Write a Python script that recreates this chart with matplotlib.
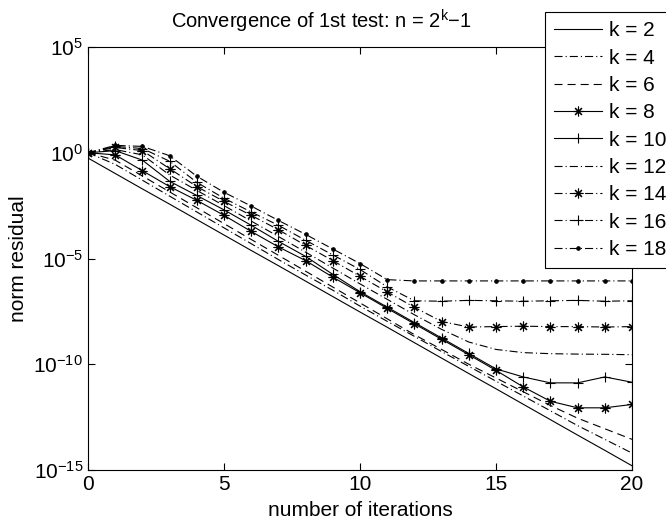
import numpy as np
import matplotlib
matplotlib.use("Agg")
import matplotlib.pyplot as plt

plt.rcParams['font.family'] = ['Liberation Sans', 'DejaVu Sans']
plt.rcParams['mathtext.fontset'] = 'custom'
plt.rcParams['mathtext.rm'] = 'Liberation Sans'
plt.rcParams['mathtext.it'] = 'Liberation Sans:italic'
plt.rcParams['lines.scale_dashes'] = False

iters = np.arange(21)

# log10 of the norm residual
res_k2 = [-0.25, -0.98, -1.71, -2.43, -3.16, -3.89, -4.62, -5.34, -6.07, -6.80, -7.53,
          -8.25, -8.98, -9.71, -10.44, -11.16, -11.89, -12.62, -13.35, -14.07, -14.80]
res_k4 = [0.0, -0.55, -1.30, -2.05, -2.80, -3.55, -4.30, -5.05, -5.78, -6.50, -7.25,
          -7.97, -8.68, -9.40, -10.10, -10.80, -11.50, -12.20, -12.90, -13.55, -14.20]
res_k6 = [0.0, -0.35, -1.10, -1.85, -2.60, -3.35, -4.10, -4.85, -5.60, -6.35, -7.10,
          -7.85, -8.60, -9.30, -10.00, -10.65, -11.30, -11.95, -12.55, -13.05, -13.55]
res_k8 = [0.0, -0.10, -0.85, -1.60, -2.25, -2.96, -3.72, -4.45, -5.10, -5.88, -6.62,
          -7.36, -8.09, -8.82, -9.55, -10.29, -11.07, -11.75, -12.06, -12.06, -11.90]
res_k10 = [0.0, 0.10, -0.35, -1.35, -2.02, -2.70, -3.43, -4.19, -4.90, -5.75, -6.57,
           -7.30, -8.03, -8.76, -9.49, -10.22, -10.60, -10.88, -10.88, -10.60, -10.85]
res_k12 = [0.0, 0.15, -0.10, -1.05, -1.78, -2.50, -3.23, -3.96, -4.70, -5.45, -6.20,
           -6.93, -7.66, -8.35, -8.95, -9.30, -9.45, -9.50, -9.52, -9.53, -9.55]
res_k14 = [0.0, 0.25, 0.10, -0.75, -1.60, -2.30, -2.96, -3.64, -4.38, -5.10, -5.84,
           -6.58, -7.31, -7.98, -8.24, -8.22, -8.20, -8.22, -8.22, -8.24, -8.22]
res_k16 = [0.0, 0.30, 0.20, -0.40, -1.40, -2.15, -2.80, -3.43, -4.14, -4.83, -5.52,
           -6.34, -7.00, -7.02, -6.98, -7.00, -7.02, -7.00, -6.98, -7.02, -7.00]
res_k18 = [0.0, 0.35, 0.30, -0.14, -1.11, -1.87, -2.52, -3.20, -3.86, -4.55, -5.24,
           -6.00, -6.06, -6.06, -6.06, -6.06, -6.06, -6.06, -6.06, -6.06, -6.06]

labels = ['k = 2', 'k = 4', 'k = 6', 'k = 8', 'k = 10', 'k = 12', 'k = 14', 'k = 16', 'k = 18']
series = [res_k2, res_k4, res_k6, res_k8, res_k10, res_k12, res_k14, res_k16, res_k18]

# matlab-ish line styles (dash lengths in points)
solid = '-'
dashed = (0, (5.8, 3.6))
dashdot = (0, (5.8, 2.2, 0.8, 2.2))
star = (8, 2, 0)
styles = [(solid, None), (dashdot, None), (dashed, None), (solid, star), (solid, '+'),
          (dashdot, None), (dashdot, star), (dashdot, '+'), (dashdot, '.')]

fig = plt.figure(figsize=(6.66, 5.25), dpi=100)
ax = fig.add_axes([88/666, 1-470/525, 544/666, 423/525])

for vals, lab, (ls, mk) in zip(series, labels, styles):
    ms = 5 if mk == '.' else 7
    ax.semilogy(iters, 10**np.array(vals), color='k', ls=ls, marker=mk,
                markersize=ms, mew=0.8, mec='k', mfc='k', lw=0.8, label=lab)

ax.set_xlim(0, 20)
ax.set_ylim(1e-15, 1e5)
ax.set_xticks([0, 5, 10, 15, 20])
ax.set_yticks([1e-15, 1e-10, 1e-5, 1e0, 1e5])
ax.minorticks_off()
ax.tick_params(direction='in', top=True, right=True, length=5, width=0.8, labelsize=15)
for s in ax.spines.values():
    s.set_linewidth(0.8)

ax.set_xlabel('number of iterations', fontsize=15, labelpad=5)
ax.set_ylabel('norm residual', fontsize=15, labelpad=4)
ax.set_title(r'Convergence of 1st test: n = 2$^{\mathregular{k}}$$-$1', fontsize=14.5,
             x=(321-88)/544, pad=13)

leg = fig.legend(loc='upper left', bbox_to_anchor=(545/666, 1-12/525), borderaxespad=0,
                 fontsize=15, handlelength=2.3, handletextpad=0.3, labelspacing=0.4,
                 borderpad=0.45, fancybox=False, framealpha=1, edgecolor='k')
leg.get_frame().set_linewidth(0.8)

fig.savefig('out.png', dpi=100)
